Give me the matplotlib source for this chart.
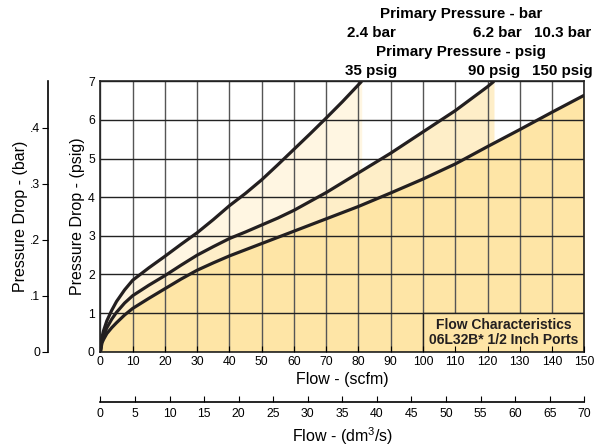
import numpy as np
import matplotlib.pyplot as plt
from matplotlib.patches import Rectangle

plt.rcParams['font.family'] = ['Liberation Sans', 'DejaVu Sans']
plt.rcParams['mathtext.default'] = 'regular'

# flow (scfm) vs pressure drop (psig)
flow_35 = [0, 0.5, 1, 2, 3.5, 5, 7.5, 10, 15, 20, 25, 30, 35, 40, 45, 50, 55, 60, 65, 70, 75, 81]
drop_35 = [0, 0.38, 0.55, 0.8, 1.07, 1.3, 1.6, 1.85, 2.17, 2.47, 2.78, 3.08, 3.42, 3.78, 4.1, 4.45, 4.84, 5.24, 5.64, 6.05, 6.47, 7.0]

flow_90 = [0, 0.5, 1, 2, 3.5, 5, 7.5, 10, 15, 20, 25, 30, 35, 40, 45, 50, 55, 60, 70, 80, 90, 100, 110, 120, 122]
drop_90 = [0, 0.3, 0.42, 0.62, 0.84, 1.02, 1.26, 1.45, 1.72, 1.97, 2.24, 2.5, 2.72, 2.93, 3.1, 3.28, 3.46, 3.66, 4.12, 4.63, 5.14, 5.69, 6.24, 6.86, 7.0]

flow_150 = [0, 0.5, 1, 2, 3.5, 5, 7.5, 10, 15, 20, 25, 30, 35, 40, 50, 60, 70, 80, 90, 100, 110, 120, 130, 140, 150]
drop_150 = [0, 0.23, 0.32, 0.47, 0.62, 0.75, 0.95, 1.12, 1.38, 1.63, 1.88, 2.11, 2.3, 2.48, 2.8, 3.12, 3.44, 3.76, 4.11, 4.47, 4.86, 5.31, 5.75, 6.2, 6.64]

scfm_ticks = list(range(0, 151, 10))
dm3s_ticks = list(range(0, 71, 5))
psig_ticks = list(range(0, 8))
bar_ticks = [0, 0.1, 0.2, 0.3, 0.4]
bar_labels = ["0", ".1", ".2", ".3", ".4"]

c_dark = "#fee5a6"
c_mid = "#feeec8"
c_light = "#fff6e2"
c_line = "#231f20"

fig = plt.figure(figsize=(6.03, 4.48), dpi=100)
ax = fig.add_axes([100.4 / 603, 96.3 / 448, 483.9 / 603, 270.4 / 448])

ax.fill_between(flow_35, drop_35, color=c_light, lw=0, zorder=1)
ax.fill_between(flow_90, drop_90, color=c_mid, lw=0, zorder=1.1)
ax.fill_between(flow_150, drop_150, color=c_dark, lw=0, zorder=1.2)

# grid
ax.vlines(scfm_ticks, 0, 7, color="#555555", lw=1.0, zorder=1.5)
ax.hlines(psig_ticks, 0, 150, color="#222222", lw=1.0, zorder=1.5)

# legend box
ax.add_patch(Rectangle((100, 0), 50, 1, facecolor=c_dark, edgecolor="#222222", lw=1.0, zorder=1.6))
ax.text(125, 0.5, "Flow Characteristics\n06L32B* 1/2 Inch Ports", ha="center", va="center",
        fontsize=10, fontweight="bold", color="#231f20", linespacing=1.1, zorder=4)

for f, d in [(flow_35, drop_35), (flow_90, drop_90), (flow_150, drop_150)]:
    ax.plot(f, d, color=c_line, lw=2.3, solid_capstyle="butt", solid_joinstyle="round", zorder=3)

ax.set_xlim(0, 150)
ax.set_ylim(0, 7)
ax.set_xticks(scfm_ticks)
ax.set_yticks(psig_ticks)
ax.tick_params(axis="x", direction="in", length=4, width=0.8, pad=3, labelsize=8.8)
ax.tick_params(axis="y", length=0, pad=4, labelsize=8.8)
ax.set_axisbelow(False)
for s in ax.spines.values():
    s.set_linewidth(1.2)
    s.set_color("#222222")
ax.set_xlabel("Flow - (scfm)", fontsize=11.5, labelpad=3)
ax.set_ylabel("Pressure Drop - (psig)", fontsize=11.5, labelpad=2)

# bar axis on the left
ax2 = fig.add_axes([48.3 / 603, 96.3 / 448, 0.0001, 270.4 / 448])
ax2.set_ylim(0, 7 / 14.5038)
ax2.set_yticks(bar_ticks)
ax2.set_yticklabels(bar_labels)
ax2.set_xticks([])
for k in ["top", "right", "bottom"]:
    ax2.spines[k].set_visible(False)
ax2.spines["left"].set_linewidth(1.2)
ax2.tick_params(axis="y", direction="out", length=4, width=0.8, pad=2, labelsize=8.8)
ax2.set_ylabel("Pressure Drop - (bar)", fontsize=11.5, labelpad=1.5)
ax2.patch.set_visible(False)

# dm3/s axis at the bottom
ax3 = fig.add_axes([100.4 / 603, 46 / 448, 483.9 / 603, 0.0001])
ax3.set_xlim(0, 70)
ax3.set_xticks(dm3s_ticks)
ax3.set_yticks([])
for k in ["top", "right", "left"]:
    ax3.spines[k].set_visible(False)
ax3.spines["bottom"].set_linewidth(1.2)
ax3.tick_params(axis="x", direction="in", length=4, width=0.8, pad=4, labelsize=8.8)
ax3.set_xlabel("Flow - (dm$^3$/s)", fontsize=11.5, labelpad=4)
ax3.patch.set_visible(False)

# top labels
top_kw = dict(ha="center", va="center", fontsize=10.9, fontweight="bold")
fig.text(461 / 603, 1 - 14 / 448, "Primary Pressure - bar", **top_kw)
fig.text(371 / 603, 1 - 33.3 / 448, "2.4 bar", **top_kw)
fig.text(497.5 / 603, 1 - 33.3 / 448, "6.2 bar", **top_kw)
fig.text(562.5 / 603, 1 - 33.3 / 448, "10.3 bar", **top_kw)
fig.text(461.3 / 603, 1 - 51.7 / 448, "Primary Pressure - psig", **top_kw)
fig.text(371 / 603, 1 - 71 / 448, "35 psig", **top_kw)
fig.text(494 / 603, 1 - 71 / 448, "90 psig", **top_kw)
fig.text(562.5 / 603, 1 - 71 / 448, "150 psig", **top_kw)

fig.savefig("out.png", dpi=100)
